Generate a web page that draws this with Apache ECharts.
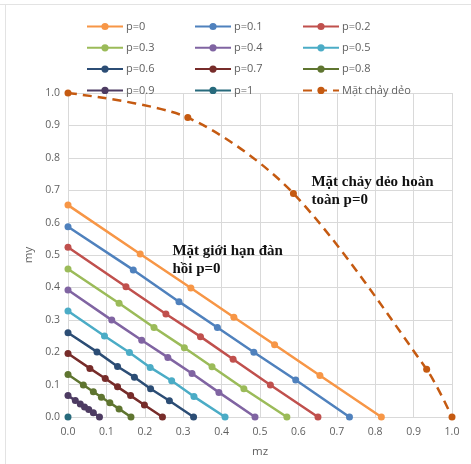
<!DOCTYPE html>
<html>
<head>
<meta charset="utf-8">
<style>
  html, body { margin: 0; padding: 0; background: #fff; }
  #chart { width: 471px; height: 464px; }
</style>
<script src="https://cdn.jsdelivr.net/npm/echarts@6/dist/echarts.min.js"></script>
</head>
<body>
<div id="chart"></div>
<script>
// Elastic limit lines for each p (mz, my pairs)
const seriesNames = ['p=0', 'p=0.1', 'p=0.2', 'p=0.3', 'p=0.4', 'p=0.5', 'p=0.6', 'p=0.7', 'p=0.8', 'p=0.9', 'p=1'];
const seriesColors = ['#F79646', '#4F81BD', '#C0504D', '#9BBB59', '#8064A2', '#4BACC6', '#2C4D75', '#772C2A', '#5F7530', '#4D3B62', '#276A7C'];

const mzValues = [
  [0, 0.188, 0.320, 0.432, 0.538, 0.656, 0.816],
  [0, 0.170, 0.289, 0.389, 0.484, 0.593, 0.733],
  [0, 0.151, 0.255, 0.345, 0.430, 0.527, 0.651],
  [0, 0.133, 0.224, 0.303, 0.375, 0.458, 0.570],
  [0, 0.114, 0.192, 0.260, 0.323, 0.393, 0.487],
  [0, 0.095, 0.160, 0.214, 0.270, 0.328, 0.409],
  [0, 0.0755, 0.129, 0.173, 0.215, 0.264, 0.327],
  [0, 0.057, 0.097, 0.129, 0.163, 0.199, 0.246],
  [0, 0.040, 0.066, 0.087, 0.109, 0.133, 0.164],
  [0, 0.019, 0.032, 0.043, 0.054, 0.066, 0.082],
  [0]
];
const myValues = [
  [0.654, 0.503, 0.398, 0.308, 0.223, 0.128, 0],
  [0.587, 0.454, 0.356, 0.276, 0.200, 0.114, 0],
  [0.524, 0.402, 0.318, 0.248, 0.178, 0.099, 0],
  [0.457, 0.351, 0.276, 0.214, 0.155, 0.087, 0],
  [0.392, 0.299, 0.237, 0.184, 0.134, 0.076, 0],
  [0.327, 0.250, 0.199, 0.153, 0.112, 0.063, 0],
  [0.260, 0.201, 0.156, 0.123, 0.087, 0.050, 0],
  [0.196, 0.150, 0.119, 0.093, 0.066, 0.037, 0],
  [0.131, 0.099, 0.078, 0.061, 0.044, 0.025, 0],
  [0.066, 0.051, 0.040, 0.031, 0.023, 0.013, 0],
  [0]
];

// Full plastic yield surface
const plasticName = 'Mặt chảy dẻo';
const plasticMz = [0, 0.312, 0.587, 0.934, 1.0];
const plasticMy = [1.0, 0.924, 0.690, 0.147, 0];

// Axis ticks
const axisMin = 0, axisMax = 1, axisStep = 0.1;

const textFont = 'Open Sans';
const labelColor = '#5f5f5f';
const gridColor = '#d9d9d9';

const zip = (xs, ys) => xs.map((x, i) => [x, ys[i]]);

const series = seriesNames.map((name, i) => ({
  name,
  type: 'line',
  data: zip(mzValues[i], myValues[i]),
  symbol: 'circle',
  symbolSize: 7,
  color: seriesColors[i],
  lineStyle: { width: 2.5, color: seriesColors[i] },
  itemStyle: { color: seriesColors[i] },
  emphasis: { disabled: true },
  animation: false
}));

series.push({
  name: plasticName,
  type: 'line',
  data: zip(plasticMz, plasticMy),
  smooth: 0.3,
  symbol: 'circle',
  symbolSize: 7,
  color: '#C55A11',
  lineStyle: { width: 2.5, color: '#C55A11', type: [9, 6] },
  itemStyle: { color: '#C55A11' },
  emphasis: { disabled: true },
  animation: false,
  markPoint: {
    symbol: 'circle',
    symbolSize: 0,
    silent: true,
    label: {
      show: true,
      position: [0, 0],
      align: 'left',
      verticalAlign: 'top',
      fontFamily: 'Liberation Serif',
      fontWeight: 'bold',
      fontSize: 15,
      lineHeight: 18,
      color: '#111111',
      formatter: p => p.name
    },
    data: [
      { name: 'Mặt giới hạn đàn\nhồi p=0', coord: [0.272, 0.540] },
      { name: 'Mặt chảy dẻo hoàn\ntoàn p=0', coord: [0.634, 0.754] }
    ]
  }
});

// Legend laid out as three columns
const allNames = seriesNames.concat([plasticName]);
const columns = [0, 1, 2].map(c => allNames.filter((_, i) => i % 3 === c));
const columnLeft = [81, 189, 297];
const legends = columns.map((names, c) => ({
  data: names,
  orient: 'vertical',
  left: columnLeft[c],
  top: 16,
  itemWidth: 36,
  itemHeight: 9,
  itemGap: 10.3,
  selectedMode: false,
  textStyle: { fontFamily: textFont, fontSize: 11, color: labelColor, padding: [0, 0, 0, -2] }
}));

const axisCommon = {
  type: 'value',
  min: axisMin,
  max: axisMax,
  interval: axisStep,
  axisLine: { show: true, lineStyle: { color: gridColor, width: 1 } },
  axisTick: { show: false },
  splitLine: { show: true, lineStyle: { color: gridColor, width: 1 } },
  axisLabel: {
    fontFamily: textFont, fontSize: 10.5, color: labelColor,
    formatter: v => v.toFixed(1)
  },
  nameLocation: 'middle',
  nameTextStyle: { fontFamily: textFont, fontSize: 11.5, color: labelColor }
};

const chart = echarts.init(document.getElementById('chart'), null, { renderer: 'canvas' });
chart.setOption({
  animation: false,
  backgroundColor: '#ffffff',
  grid: { left: 68, right: 19, top: 93, bottom: 47, containLabel: false },
  legend: legends,
  xAxis: Object.assign({}, axisCommon, {
    name: 'mz', nameGap: 29,
    axisLabel: Object.assign({}, axisCommon.axisLabel, { margin: 10 })
  }),
  yAxis: Object.assign({}, axisCommon, {
    name: 'my', nameGap: 33,
    axisLabel: Object.assign({}, axisCommon.axisLabel, { margin: 8 })
  }),
  graphic: [
    { type: 'line', silent: true, shape: { x1: 0, y1: 4.5, x2: 471, y2: 4.5 }, style: { stroke: '#e3e3e3', lineWidth: 1 } },
    { type: 'line', silent: true, shape: { x1: 5.5, y1: 4.5, x2: 5.5, y2: 464 }, style: { stroke: '#e3e3e3', lineWidth: 1 } }
  ],
  series
});
</script>
</body>
</html>
